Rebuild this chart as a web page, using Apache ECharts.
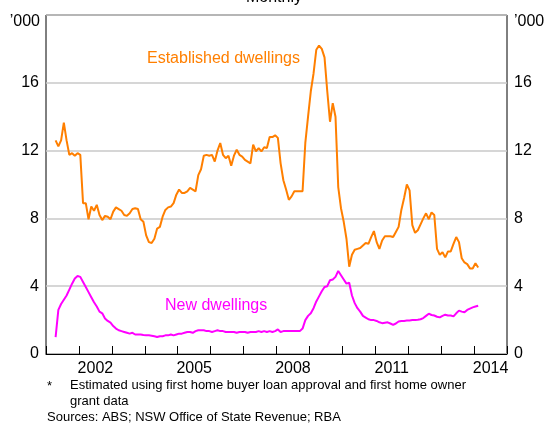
<!DOCTYPE html>
<html><head><meta charset="utf-8">
<script src="https://cdn.jsdelivr.net/npm/echarts@6/dist/echarts.min.js"></script>
<style>html,body{margin:0;padding:0;background:#fff}#c{width:548px;height:423px}</style>
</head><body><div id="c"></div>
<script>
// Monthly data, first observation April 2001 (month index 3 from Jan 2001), last Feb 2014
const firstYear = 2001;
const firstMonthIndex = 3;
const established = [
12.6,12.25,12.6,13.65,12.6,11.75,11.85,11.7,11.85,11.75,
8.9,8.9,7.95,8.7,8.45,8.8,8.2,7.9,8.15,8.1,
7.95,8.4,8.65,8.55,8.45,8.2,8.15,8.3,8.55,8.6,
8.55,7.95,7.8,7.0,6.6,6.55,6.8,7.4,7.5,8.1,
8.5,8.65,8.7,8.9,9.4,9.7,9.5,9.5,9.6,9.8,
9.7,9.6,10.55,10.9,11.7,11.75,11.7,11.75,11.35,12.0,
12.45,11.75,11.55,11.7,11.1,11.7,12.05,11.75,11.65,11.45,
11.35,11.25,12.35,11.95,12.15,11.95,12.2,12.15,12.8,12.8,
12.9,12.75,11.25,10.25,9.7,9.1,9.3,9.6,9.6,9.6,
9.6,12.45,14.0,15.5,16.55,17.95,18.2,18.0,17.5,15.5,
13.7,14.8,14.0,9.85,8.6,7.8,6.8,5.15,5.85,6.15,
6.2,6.25,6.4,6.55,6.5,6.9,7.25,6.6,6.2,6.7,
6.95,6.95,6.95,6.9,7.2,7.5,8.5,9.2,10.0,9.65,
7.6,7.15,7.3,7.65,8.0,8.3,7.95,8.35,8.2,6.2,
5.85,6.0,5.7,6.05,6.05,6.5,6.9,6.6,5.65,5.4,
5.3,5.05,5.05,5.35,5.1
];
const newDwellings = [
1.0,2.6,2.95,3.2,3.45,3.8,4.15,4.45,4.6,4.55,
4.25,3.95,3.65,3.35,3.05,2.8,2.5,2.4,2.1,1.95,
1.85,1.65,1.5,1.4,1.35,1.3,1.25,1.2,1.25,1.15,
1.15,1.15,1.12,1.1,1.1,1.08,1.05,1.0,1.05,1.05,
1.1,1.1,1.15,1.1,1.15,1.2,1.2,1.25,1.3,1.3,
1.25,1.35,1.4,1.4,1.4,1.35,1.35,1.3,1.35,1.4,
1.35,1.35,1.3,1.3,1.3,1.3,1.25,1.3,1.3,1.3,
1.25,1.3,1.3,1.3,1.35,1.3,1.35,1.3,1.35,1.3,
1.35,1.45,1.3,1.35,1.35,1.35,1.35,1.35,1.35,1.35,
1.5,2.0,2.25,2.4,2.7,3.1,3.4,3.7,3.95,4.0,
4.35,4.4,4.55,4.9,4.65,4.4,4.15,4.2,3.45,3.0,
2.7,2.5,2.25,2.15,2.05,2.0,2.0,1.95,1.87,1.82,
1.85,1.87,1.8,1.72,1.8,1.92,1.95,1.95,1.97,1.98,
2.0,2.0,2.02,2.05,2.12,2.25,2.38,2.3,2.27,2.2,
2.16,2.25,2.32,2.27,2.27,2.22,2.4,2.56,2.5,2.46,
2.6,2.68,2.75,2.8,2.85
];
const xLabelYears = [2002, 2005, 2008, 2011, 2014];
const xMin = 2001, xMax = 2015;
const yMin = 0, yMax = 20, yStep = 4;
const yLabelValues = [0, 4, 8, 12, 16];
const unitLabel = '\u2019000';
const titleText = 'Monthly';
const seriesNames = ['Established dwellings', 'New dwellings'];
const footnote1 = 'Estimated using first home buyer loan approval and first home owner';
const footnote2 = 'grant data';
const sources = 'Sources: ABS; NSW Office of State Revenue; RBA';

function toPoints(arr) {
  return arr.map((v, i) => [firstYear + (firstMonthIndex + i + 0.5) / 12, v]);
}

const FONT = '"Liberation Sans", Arial, sans-serif';
const ORANGE = '#FF7F00';
const PINK = '#FF00FF';
const chart = echarts.init(document.getElementById('c'), null, {renderer: 'canvas'});

const yLabelFmt = v => yLabelValues.indexOf(v) >= 0 ? String(v) : '';
const yCommon = {
  type: 'value', min: yMin, max: yMax, interval: yStep,
  axisLine: {show: false}, axisTick: {show: false},
  axisLabel: {formatter: yLabelFmt, color: '#000', fontSize: 16, fontFamily: FONT, margin: 7}
};

chart.setOption({
  animation: false,
  backgroundColor: '#fff',
  grid: {left: 46, top: 15, width: 461, height: 339, show: true, borderColor: '#000', borderWidth: 1, backgroundColor: 'transparent'},
  xAxis: [
    {type: 'value', min: xMin, max: xMax, interval: 1, position: 'bottom',
     axisLine: {show: true, lineStyle: {color: '#000', width: 1}},
     axisTick: {show: true, inside: true, length: 8, lineStyle: {color: '#000', width: 1}},
     axisLabel: {show: false}, splitLine: {show: false}},
    {type: 'value', min: xMin, max: xMax, interval: 0.5, position: 'bottom',
     axisLine: {show: false}, axisTick: {show: false}, splitLine: {show: false},
     axisLabel: {show: true, color: '#000', fontSize: 16, fontFamily: FONT, margin: 7,
       formatter: v => {
         const y = Math.floor(v);
         return (Math.abs(v - y - 0.5) < 1e-6 && xLabelYears.indexOf(y) >= 0) ? String(y) : '';
       }}}
  ],
  yAxis: [
    Object.assign({}, yCommon, {position: 'left',
      splitLine: {show: true, lineStyle: {color: '#c8c8c8', width: 1.5}}}),
    Object.assign({}, yCommon, {position: 'right', splitLine: {show: false}})
  ],
  series: [
    {name: seriesNames[0], type: 'line', data: toPoints(established), showSymbol: false,
     lineStyle: {color: ORANGE, width: 2}, itemStyle: {color: ORANGE}, z: 3},
    {name: seriesNames[1], type: 'line', data: toPoints(newDwellings), showSymbol: false,
     lineStyle: {color: PINK, width: 2}, itemStyle: {color: PINK}, z: 3}
  ],
  graphic: [
    {type: 'text', left: 'center', top: -10, style: {text: titleText, font: '16px ' + FONT, fill: '#000'}},
    {type: 'text', x: 40, y: 22, style: {text: unitLabel, font: '16px ' + FONT, fill: '#000', align: 'right', verticalAlign: 'middle'}},
    {type: 'text', x: 514, y: 22, style: {text: unitLabel, font: '16px ' + FONT, fill: '#000', align: 'left', verticalAlign: 'middle'}},
    {type: 'text', x: 147, y: 59, style: {text: seriesNames[0], font: '16px ' + FONT, fill: ORANGE, align: 'left', verticalAlign: 'middle'}},
    {type: 'text', x: 165, y: 306, style: {text: seriesNames[1], font: '16px ' + FONT, fill: PINK, align: 'left', verticalAlign: 'middle'}},
    {type: 'text', x: 47, y: 386, style: {text: '*', font: '13px ' + FONT, fill: '#000', align: 'left', verticalAlign: 'middle'}},
    {type: 'text', x: 70, y: 385, style: {text: footnote1, font: '13px ' + FONT, fill: '#000', align: 'left', verticalAlign: 'middle'}},
    {type: 'text', x: 70, y: 401, style: {text: footnote2, font: '13px ' + FONT, fill: '#000', align: 'left', verticalAlign: 'middle'}},
    {type: 'text', x: 47, y: 417, style: {text: sources, font: '13px ' + FONT, fill: '#000', align: 'left', verticalAlign: 'middle'}}
  ]
});
</script></body></html>
